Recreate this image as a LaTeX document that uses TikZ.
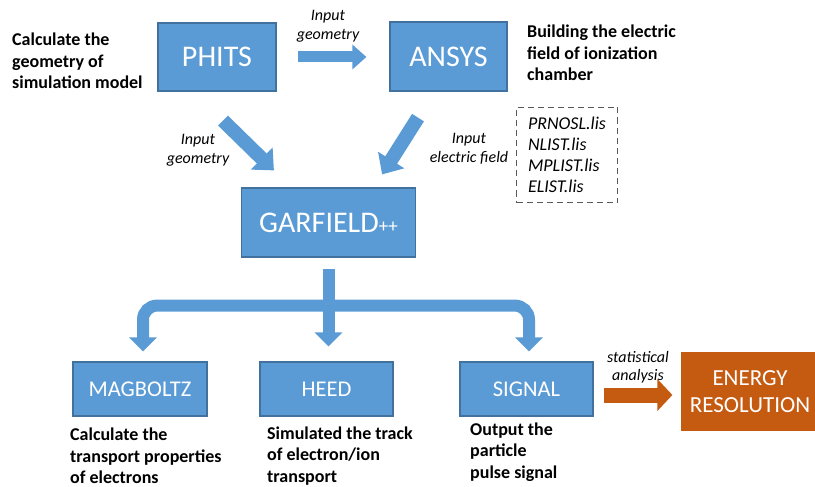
\documentclass[tikz,border=0pt]{standalone}
\usepackage{fontspec}
\setmainfont{Carlito}
\usetikzlibrary{arrows.meta,calc}
\definecolor{boxblue}{HTML}{5B9BD5}
\definecolor{edgeblue}{HTML}{41719C}
\definecolor{boxorange}{HTML}{C55A11}
\definecolor{dashgray}{HTML}{595959}
\newcommand{\boxfont}{\fontsize{30}{32}\selectfont}
\newcommand{\subfont}{\fontsize{22.5}{27}\selectfont}
\newcommand{\notefont}{\fontsize{18}{21.5}\selectfont\bfseries}
\newcommand{\tagfont}{\fontsize{16}{18.5}\selectfont\itshape}
\tikzset{
  toolbox/.style={draw=edgeblue,line width=1.2pt,fill=boxblue,text=white,inner sep=0pt},
  note/.style={anchor=west,align=left,inner sep=0pt,font=\notefont},
  tag/.style={align=center,inner sep=0pt,font=\tagfont},
  blockarrow/.style={draw=boxblue,line width=11pt,-{Triangle[length=14pt,width=24pt]}},
  slantarrow/.style={draw=boxblue,line width=14pt,-{Triangle[length=17pt,width=30pt]}},
  forkarrow/.style={draw=boxblue,line width=12pt,-{Triangle[length=14pt,width=27pt]}}
}
\begin{document}
\begin{tikzpicture}[x=1pt,y=-1pt]
  \useasboundingbox (0,0) rectangle (815,487);
  % programs
  \node[toolbox,minimum width=118pt,minimum height=68pt,font=\boxfont] (phits) at (217,57) {PHITS};
  \node[toolbox,minimum width=117pt,minimum height=69pt,font=\boxfont] (ansys) at (448.5,56.5) {ANSYS};
  \node[toolbox,minimum width=174pt,minimum height=69pt,font=\boxfont] (garfield) at (328.5,222.5)
    {GARFIELD{\fontsize{19}{19}\selectfont++}};
  \node[toolbox,minimum width=134pt,minimum height=54pt,font=\subfont] (magboltz) at (140,389) {MAGBOLTZ};
  \node[toolbox,minimum width=133pt,minimum height=54pt,font=\subfont] (heed) at (326.5,389) {HEED};
  \node[toolbox,minimum width=133pt,minimum height=54pt,font=\subfont] (signal) at (526.5,389) {SIGNAL};
  \node[toolbox,draw=boxorange,fill=boxorange,minimum width=136pt,minimum height=77pt,
    align=center,font=\fontsize{23}{27}\selectfont] (energy) at (750,391.5) {ENERGY\\RESOLUTION};
  % notes
  \node[note] (geomnote) at (12,61) {Calculate the\\geometry of\\simulation model};
  \node[note] (fieldnote) at (527,53) {Building the electric\\field of ionization\\chamber};
  \node[note] (magnote) at (70,456) {Calculate the\\transport properties\\of electrons};
  \node[note] (heednote) at (267,456) {Simulated the track\\of electron/ion\\transport};
  \node[note] (signote) at (470,452) {Output the\\particle\\pulse signal};
  \node[draw=dashgray,line width=1pt,dash pattern=on 6pt off 4pt,anchor=north west,align=left,
    minimum width=101pt,minimum height=95pt,inner sep=0pt,font=\fontsize{18}{21}\selectfont\itshape]
    (lisbox) at (516,107) {PRNOSL.lis\\NLIST.lis\\MPLIST.lis\\ELIST.lis};
  % arrows
  \draw[blockarrow,shorten <=21pt,shorten >=23pt] (phits.east) -- (phits.east -| ansys.west);
  \node[tag] (geomtag) at (328,26) {Input\\geometry};
  \draw[slantarrow] ($(phits.south)+(6,29)$) -- ($(garfield.north west)+(33,-17)$);
  \node[tag] (geomtag2) at (198,150) {Input\\geometry};
  \draw[slantarrow] ($(ansys.south)+(-30.5,26)$) -- ($(garfield.north east)+(-34,-13)$);
  \node[tag] (fieldtag) at (469,149) {Input\\electric field};
  \coordinate (fork) at ($(garfield.south)+(0,48)$);
  \draw[forkarrow,shorten <=11pt,shorten >=15pt] (garfield.south) -- (garfield.south |- heed.north);
  \draw[forkarrow,rounded corners=14pt,shorten >=10pt] (fork) -| ($(magboltz.north)+(3,0)$);
  \draw[forkarrow,rounded corners=14pt,shorten >=10pt] (fork) -| ($(signal.north)+(2.5,0)$);
  \draw[draw=boxorange,line width=15pt,-{Triangle[length=15pt,width=31pt]},shorten <=10pt,shorten >=9pt]
    ([yshift=-6pt]signal.east) -- ([yshift=-6pt]signal.east -| energy.west);
  \node[tag] (stattag) at (638,367) {statistical\\analysis};
\end{tikzpicture}
\end{document}
